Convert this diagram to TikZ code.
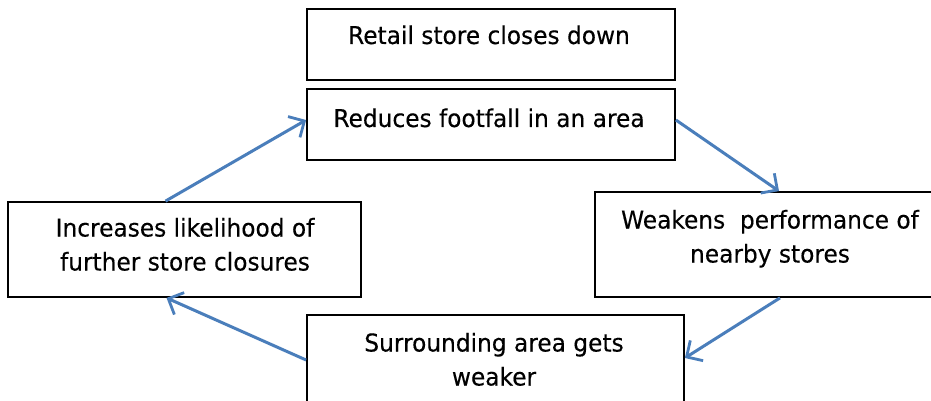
\documentclass[tikz,border=0pt]{standalone}
\usepackage{fontspec}
\setmainfont{DejaVu Sans}[FakeStretch=0.95,FakeBold=0.3]
\usetikzlibrary{arrows.meta}
\definecolor{flow}{HTML}{4A7EBB}
\begin{document}
\begin{tikzpicture}[x=1pt,y=-1pt,
  box/.style={draw=black, line width=1.8pt, rectangle, inner sep=0pt},
  caption/.style={font=\fontsize{24.5}{34}\selectfont, align=center, inner sep=0pt, anchor=base},
  flowarrow/.style={draw=flow, line width=3pt,
    -{Straight Barb[length=12pt,width=24pt,line width=2.8pt]}}]
\useasboundingbox (0,0) rectangle (931,401);

% boxes
\node[box, minimum width=368, minimum height=71] (retail) at (491,44.5) {};
\node[box, minimum width=368, minimum height=71] (footfall) at (491,124.5) {};
\node[box, minimum width=348, minimum height=105] (weakens) at (769,244.5) {};
\node[box, minimum width=377, minimum height=88] (surround) at (495.5,359) {};
\node[box, minimum width=353, minimum height=95] (increases) at (184.5,249.5) {};

% captions (base anchor sits on the last line)
\node[caption] (retailtxt) at (489,44) {Retail store closes down};
\node[caption] (footfalltxt) at (489,127) {Reduces footfall in an area};
\node[caption] (weakenstxt) at (770,262.5) {Weakens\hspace{0.3em} performance of\\nearby stores};
\node[caption] (surroundtxt) at (494,385.5) {Surrounding area gets\\weaker};
\node[caption] (increasestxt) at (185,270.5) {Increases likelihood of\\further store closures};

% cycle arrows
\draw[flowarrow] ([yshift=4.5pt]footfall.east) -- ([xshift=10pt]weakens.north);
\draw[flowarrow] ([xshift=11pt]weakens.south) -- ([yshift=1pt]surround.east);
\draw[flowarrow] ([yshift=-1pt]surround.west) -- ([xshift=-18pt]increases.south);
\draw[flowarrow] ([xshift=-19pt]increases.north) -- ([yshift=4.5pt]footfall.west);
\end{tikzpicture}
\end{document}
